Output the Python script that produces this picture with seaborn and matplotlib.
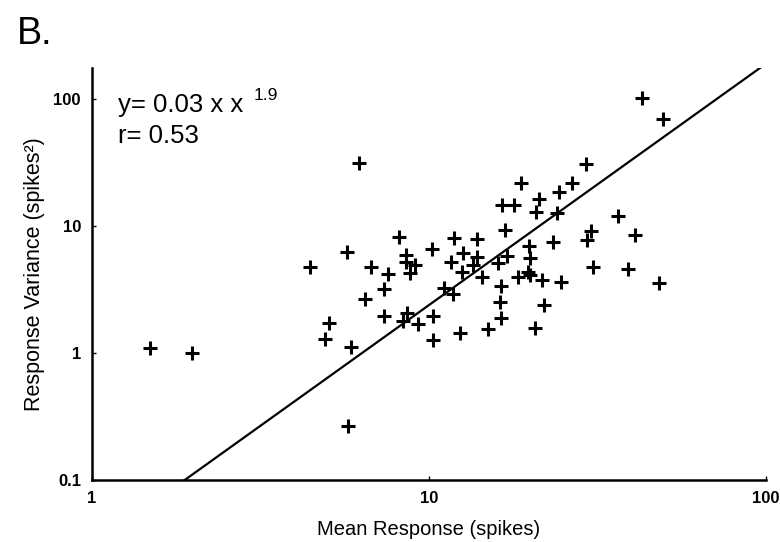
import numpy as np
import pandas as pd
import matplotlib
matplotlib.use("Agg")
import matplotlib.pyplot as plt
import seaborn as sns

# mean response (spikes) and response variance (spikes^2)
mean_resp = [1.49, 1.98, 5.75, 6.20, 4.43, 5.71, 6.73, 7.56, 7.35, 6.46,
             8.15, 8.55, 8.55, 9.09, 8.78, 10.2, 11.9, 13.9, 12.6, 11.6,
             13.9, 13.5, 12.5, 16.0, 17.0, 11.1, 11.8, 14.4, 16.4, 18.4,
             19.7, 19.9, 21.6, 24.6, 16.2, 21.9, 16.4, 7.35, 8.60, 8.37,
             9.28, 10.3, 5.05, 4.91, 5.87, 10.3, 12.4, 15.0, 20.6, 18.7,
             16.5, 17.9, 16.8, 19.8, 19.9, 23.3, 29.2, 26.6, 24.3, 21.2,
             20.8, 24.0, 36.4, 30.3, 29.4, 40.9, 30.7, 39.0, 48.1, 42.9,
             49.5]
resp_var = [1.09, 1.00, 0.266, 31.3, 4.75, 6.24, 4.75, 4.19, 3.19, 2.66,
            8.18, 5.91, 5.21, 4.93, 4.27, 6.59, 8.05, 7.91, 6.12, 5.21,
            5.70, 4.93, 4.35, 5.12, 5.81, 3.25, 2.92, 3.96, 3.37, 3.96,
            4.35, 4.11, 3.76, 3.62, 2.52, 2.39, 1.89, 1.95, 2.07, 1.79,
            1.69, 1.95, 1.72, 1.29, 1.11, 1.26, 1.44, 1.55, 1.57, 21.8,
            14.6, 14.6, 9.31, 6.97, 5.60, 7.48, 30.7, 21.8, 18.5, 16.3,
            12.9, 12.6, 12.0, 9.15, 7.76, 8.49, 4.75, 4.58, 3.56, 102.0,
            69.7]

# power-law fit y = a * x^b
fit_a = 0.03
fit_b = 1.9
r_value = 0.53

x_ticks = [1, 10, 100]
x_tick_labels = ["1", "10", "100"]
y_ticks = [0.1, 1, 10, 100]
y_tick_labels = ["0.1", "1", "10", "100"]

df = pd.DataFrame({"mean": mean_resp, "var": resp_var})
fit_x = np.logspace(0, 2, 200)
fit_df = pd.DataFrame({"x": fit_x, "y": fit_a * fit_x ** fit_b})

sns.set_style("ticks")
plt.rcParams["font.family"] = ["Liberation Sans", "DejaVu Sans"]
plt.rcParams["text.color"] = "black"
plt.rcParams["axes.labelcolor"] = "black"
plt.rcParams["xtick.color"] = "black"
plt.rcParams["ytick.color"] = "black"

W, H = 780, 542
fig = plt.figure(figsize=(W / 100, H / 100), dpi=100)
ax = fig.add_axes([92 / W, 1 - 480 / H, (766 - 92) / W, (480 - 68) / H])

sns.lineplot(data=fit_df, x="x", y="y", ax=ax, color="black", linewidth=1.6)
sns.scatterplot(data=df, x="mean", y="var", ax=ax, marker="+", s=90,
                color="black", linewidth=2.2)

ax.set_xscale("log")
ax.set_yscale("log")
ax.set_xlim(1, 100)
ax.set_ylim(0.1, 175)
ax.set_xticks(x_ticks)
ax.set_xticklabels(x_tick_labels)
ax.set_yticks(y_ticks)
ax.set_yticklabels(y_tick_labels)
ax.minorticks_off()
ax.tick_params(direction="in", length=3, width=1, labelsize=12, pad=8)
for lab in ax.get_xticklabels() + ax.get_yticklabels():
    lab.set_fontweight("bold")

sns.despine(ax=ax)
for sp in ["left", "bottom"]:
    ax.spines[sp].set_linewidth(1.8)
    ax.spines[sp].set_color("black")

ax.set_xlabel("Mean Response (spikes)", fontsize=14.5, labelpad=10)
ax.set_ylabel("Response Variance (spikes\u00b2)", fontsize=15.5, labelpad=6)

ax.text(118 / W, 1 - 112 / H, f"y= {fit_a:.2f} x x", transform=fig.transFigure,
        fontsize=18.5, va="baseline", ha="left")
ax.text(254 / W, 1 - 100 / H, f"{fit_b}", transform=fig.transFigure,
        fontsize=12.5, va="baseline", ha="left")
ax.text(118 / W, 1 - 143 / H, f"r= {r_value:.2f}", transform=fig.transFigure,
        fontsize=18.5, va="baseline", ha="left")

fig.text(17 / W, 1 - 44 / H, "B.", fontsize=27, va="baseline", ha="left")

fig.savefig("out.png", dpi=100, facecolor="white")
